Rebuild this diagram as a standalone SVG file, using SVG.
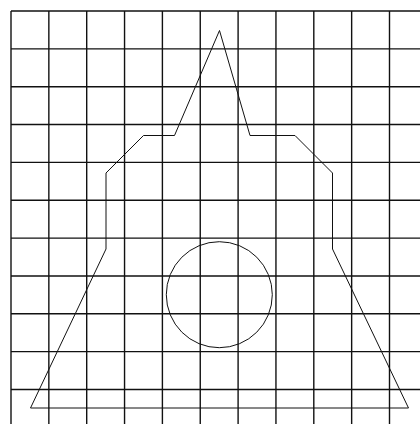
<svg xmlns="http://www.w3.org/2000/svg" width="420" height="424" viewBox="0 0 420 424">
<style>
.grid line{stroke:#111;stroke-width:1.4}
.shape{fill:none;stroke:#111;stroke-width:1}
</style>
<rect width="420" height="424" fill="#fff"/>
<g class="grid" id="grid">
<line x1="11" y1="11" x2="420" y2="11"/>
<line x1="11" y1="48.85" x2="420" y2="48.85"/>
<line x1="11" y1="86.7" x2="420" y2="86.7"/>
<line x1="11" y1="124.55" x2="420" y2="124.55"/>
<line x1="11" y1="162.4" x2="420" y2="162.4"/>
<line x1="11" y1="200.25" x2="420" y2="200.25"/>
<line x1="11" y1="238.1" x2="420" y2="238.1"/>
<line x1="11" y1="275.95" x2="420" y2="275.95"/>
<line x1="11" y1="313.8" x2="420" y2="313.8"/>
<line x1="11" y1="351.65" x2="420" y2="351.65"/>
<line x1="11" y1="389.5" x2="420" y2="389.5"/>
<line x1="11" y1="11" x2="11" y2="424"/>
<line x1="48.85" y1="11" x2="48.85" y2="424"/>
<line x1="86.7" y1="11" x2="86.7" y2="424"/>
<line x1="124.55" y1="11" x2="124.55" y2="424"/>
<line x1="162.4" y1="11" x2="162.4" y2="424"/>
<line x1="200.25" y1="11" x2="200.25" y2="424"/>
<line x1="238.1" y1="11" x2="238.1" y2="424"/>
<line x1="275.95" y1="11" x2="275.95" y2="424"/>
<line x1="313.8" y1="11" x2="313.8" y2="424"/>
<line x1="351.65" y1="11" x2="351.65" y2="424"/>
<line x1="389.5" y1="11" x2="389.5" y2="424"/>
</g>
<g id="outline">
<polygon class="shape" points="219.5,30.5 250,135.5 295,135.5 332.5,173 332.5,249 408.5,408 30.5,408 106,249 106,173 143.5,135.5 174.5,135.5"/>
</g>
<g id="circle">
<circle class="shape" cx="219.3" cy="294.7" r="53"/>
</g>
</svg>
